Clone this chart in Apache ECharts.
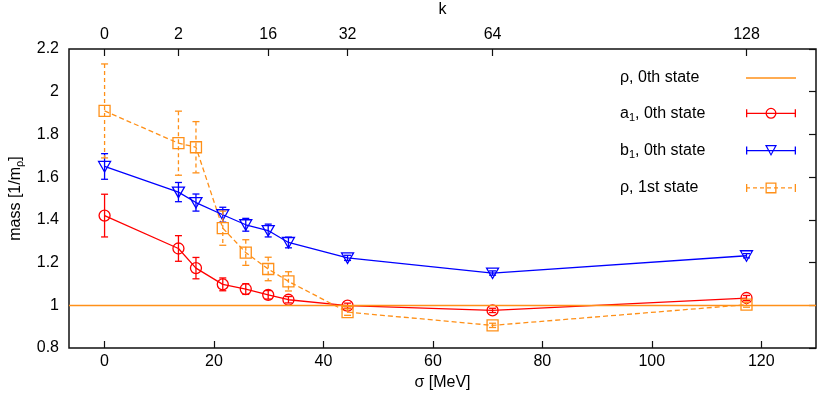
<!DOCTYPE html>
<html>
<head>
<meta charset="utf-8">
<script src="https://cdn.jsdelivr.net/npm/echarts@6/dist/echarts.min.js"></script>
<style>
  html, body { margin: 0; padding: 0; background: #fff; }
  #chart { width: 830px; height: 397px; }
</style>
</head>
<body>
<div id="chart"></div>
<script>
// values
const sigma = [0, 13.5, 16.7, 21.6, 25.8, 29.9, 33.6, 44.4, 70.9, 117.3];
const a1Mass = [1.42, 1.266, 1.174, 1.098, 1.076, 1.049, 1.026, 0.998, 0.976, 1.034];
const a1Err = [0.10, 0.06, 0.05, 0.03, 0.025, 0.02, 0.015, 0.012, 0.01, 0.012];
const b1Mass = [1.65, 1.53, 1.481, 1.424, 1.377, 1.35, 1.294, 1.222, 1.151, 1.232];
const b1Err = [0.06, 0.045, 0.04, 0.035, 0.03, 0.03, 0.025, 0.012, 0.01, 0.01];
const rho1Mass = [1.91, 1.759, 1.74, 1.361, 1.247, 1.17, 1.112, 0.968, 0.906, 1.003];
const rho1Err = [0.22, 0.15, 0.12, 0.08, 0.06, 0.055, 0.045, 0.015, 0.01, 0.012];
const rho0Mass = 1;

const sigmaTicks = [0, 20, 40, 60, 80, 100, 120];
const massTicks = [0.8, 1, 1.2, 1.4, 1.6, 1.8, 2, 2.2];
const massLabels = ['0.8', '1', '1.2', '1.4', '1.6', '1.8', '2', '2.2'];
const kSigma = [0, 13.5, 29.9, 44.4, 70.9, 117.3];
const kLabels = ['0', '2', '16', '32', '64', '128'];

const FONT = '"Liberation Sans", Arial, sans-serif';
const RED = '#ff0000';
const BLUE = '#0000ff';
const ORANGE = '#ff9018';
const LW = 1.3;

// ---- legend icon paths (50 x 12 box, filled) ----
const rect = (x0, y0, x1, y1) => `M${x0} ${y0} L${x1} ${y0} L${x1} ${y1} L${x0} ${y1} Z `;
const rectCCW = (x0, y0, x1, y1) => `M${x0} ${y0} L${x0} ${y1} L${x1} ${y1} L${x1} ${y0} Z `;
const ring = (cx, cy, r, w) =>
  `M${cx - r} ${cy} A${r} ${r} 0 1 1 ${cx + r} ${cy} A${r} ${r} 0 1 1 ${cx - r} ${cy} Z ` +
  `M${cx - r + w} ${cy} A${r - w} ${r - w} 0 1 0 ${cx + r - w} ${cy} A${r - w} ${r - w} 0 1 0 ${cx - r + w} ${cy} Z `;
const caps = rect(0, 2, 1.3, 10) + rect(48.7, 2, 50, 10);
const solidLine = rect(0, 5.35, 50, 6.65);
let dashLine = '';
for (let x = 0; x < 50; x += 7) dashLine += rect(x, 5.35, Math.min(x + 4, 50), 6.65);

const iconRho0 = 'path://' + rect(0, 0, 50, 1.3);
const iconA1 = 'path://' + solidLine + caps + ring(25, 6, 5.5, 1.3);
const iconB1 = 'path://' + solidLine + caps +
  'M19 0.5 L31 0.5 L25 11.5 Z M21.1 1.7 L25 9.2 L28.9 1.7 Z';
const iconRho1 = 'path://' + dashLine + caps + rect(19.5, 0.5, 30.5, 11.5) + rectCCW(20.8, 1.8, 29.2, 10.2);

// ---- error bars + hollow markers ----
function marker(kind, p, color) {
  const style = { stroke: color, fill: 'none', lineWidth: LW };
  if (kind === 'circle') {
    return { type: 'circle', shape: { cx: p[0], cy: p[1], r: 5.5 }, style };
  }
  if (kind === 'triangle') {
    return {
      type: 'polygon',
      shape: { points: [[p[0] - 6, p[1] - 5], [p[0] + 6, p[1] - 5], [p[0], p[1] + 5.5]] },
      style
    };
  }
  return { type: 'rect', shape: { x: p[0] - 5.5, y: p[1] - 5.5, width: 11, height: 11 }, style };
}

function errorSeries(name, mass, err, color, kind, dashed) {
  return {
    name: name,
    type: 'custom',
    z: 4,
    silent: true,
    data: sigma.map((s, i) => [s, mass[i], err[i]]),
    encode: { x: 0, y: 1 },
    renderItem: (params, api) => {
      const x = api.value(0), y = api.value(1), e = api.value(2);
      const p = api.coord([x, y]);
      const hi = api.coord([x, y + e]);
      const lo = api.coord([x, y - e]);
      const barStyle = { stroke: color, lineWidth: LW, lineDash: dashed ? [4, 3] : null };
      const capStyle = { stroke: color, lineWidth: LW };
      return {
        type: 'group',
        children: [
          { type: 'line', shape: { x1: p[0], y1: hi[1], x2: p[0], y2: lo[1] }, style: barStyle },
          { type: 'line', shape: { x1: p[0] - 3.5, y1: hi[1], x2: p[0] + 3.5, y2: hi[1] }, style: capStyle },
          { type: 'line', shape: { x1: p[0] - 3.5, y1: lo[1], x2: p[0] + 3.5, y2: lo[1] }, style: capStyle },
          marker(kind, p, color)
        ]
      };
    }
  };
}

function lineSeries(name, mass, color, dashed) {
  return {
    name: name,
    type: 'line',
    z: 3,
    silent: true,
    symbol: 'none',
    data: sigma.map((s, i) => [s, mass[i]]),
    lineStyle: { color: color, width: LW, type: dashed ? [5, 3] : 'solid' },
    itemStyle: { color: color }
  };
}

const N_RHO0 = 'ρ, 0th state';
const N_A1 = 'a1, 0th state';
const N_B1 = 'b1, 0th state';
const N_RHO1 = 'ρ, 1st state';

const legendText = {
  [N_RHO0]: '{t|ρ, 0th state}',
  [N_A1]: '{t|a}{s|1}{t|, 0th state}',
  [N_B1]: '{t|b}{s|1}{t|, 0th state}',
  [N_RHO1]: '{t|ρ, 1st state}'
};

const tickStyle = { color: '#111', width: 1.2 };
const noLine = { show: false, onZero: false };

const chart = echarts.init(document.getElementById('chart'));

chart.setOption({
  animation: false,
  backgroundColor: '#fff',
  textStyle: { fontFamily: FONT },
  grid: {
    left: 69, right: 14, top: 49, bottom: 49,
    containLabel: false,
    outerBoundsMode: 'none',
    show: true, borderColor: '#111', borderWidth: 1.5, backgroundColor: 'transparent'
  },
  legend: {
    orient: 'vertical',
    right: 34,
    top: 70,
    align: 'right',
    padding: 0,
    itemWidth: 50,
    itemHeight: 12,
    itemGap: 19.3,
    symbolKeepAspect: true,
    selectedMode: false,
    itemStyle: { borderWidth: 0 },
    data: [
      { name: N_RHO0, icon: iconRho0 },
      { name: N_A1, icon: iconA1 },
      { name: N_B1, icon: iconB1 },
      { name: N_RHO1, icon: iconRho1 }
    ],
    formatter: (name) => legendText[name],
    textStyle: {
      width: 121,
      color: '#000',
      fontFamily: FONT,
      fontSize: 16,
      rich: {
        t: { fontSize: 16, lineHeight: 20, align: 'left', fontFamily: FONT, color: '#000' },
        s: { fontSize: 11, lineHeight: 12, align: 'left', verticalAlign: 'bottom', fontFamily: FONT, color: '#000' }
      }
    }
  },
  xAxis: [
    {
      type: 'value',
      position: 'bottom',
      min: -6.5,
      max: 130,
      name: 'σ [MeV]',
      nameLocation: 'middle',
      nameGap: 25,
      nameTextStyle: { fontSize: 16, color: '#000', fontFamily: FONT },
      axisLine: noLine,
      splitLine: { show: false },
      axisTick: { show: true, inside: true, length: 7, customValues: sigmaTicks, lineStyle: tickStyle },
      axisLabel: { customValues: sigmaTicks, margin: 6, fontSize: 16, color: '#000', fontFamily: FONT }
    },
    {
      type: 'value',
      position: 'top',
      min: -6.5,
      max: 130,
      name: 'k',
      nameLocation: 'middle',
      nameGap: 31,
      nameTextStyle: { fontSize: 16, color: '#000', fontFamily: FONT },
      axisLine: noLine,
      splitLine: { show: false },
      axisTick: { show: true, inside: true, length: 7, customValues: kSigma, lineStyle: tickStyle },
      axisLabel: {
        customValues: kSigma,
        margin: 6,
        fontSize: 16,
        color: '#000',
        fontFamily: FONT,
        formatter: (v) => kLabels[kSigma.indexOf(v)]
      }
    }
  ],
  yAxis: [
    {
      type: 'value',
      position: 'left',
      min: 0.8,
      max: 2.2,
      name: '{n|mass [1/m}{s|ρ}{n|]}',
      nameLocation: 'middle',
      nameGap: 42,
      nameRotate: 90,
      nameTextStyle: {
        rich: {
          n: { fontSize: 16, lineHeight: 20, color: '#000', fontFamily: FONT },
          s: { fontSize: 11, lineHeight: 12, verticalAlign: 'bottom', color: '#000', fontFamily: FONT }
        }
      },
      axisLine: noLine,
      splitLine: { show: false },
      axisTick: { show: false },
      axisLabel: {
        customValues: massTicks,
        hideOverlap: false,
        margin: 10,
        fontSize: 16,
        color: '#000',
        fontFamily: FONT,
        formatter: (v) => massLabels[massTicks.findIndex((m) => Math.abs(m - v) < 1e-6)]
      }
    },
    {
      type: 'value',
      position: 'right',
      min: 0.8,
      max: 2.2,
      axisLine: noLine,
      splitLine: { show: false },
      axisTick: { show: true, inside: true, length: 7, customValues: massTicks, lineStyle: tickStyle },
      axisLabel: { show: false }
    }
  ],
  series: [
    {
      name: N_RHO0,
      type: 'line',
      data: [],
      symbol: 'none',
      lineStyle: { color: ORANGE, width: LW },
      itemStyle: { color: ORANGE },
      markLine: {
        silent: true,
        symbol: 'none',
        label: { show: false },
        lineStyle: { color: ORANGE, width: LW, type: 'solid' },
        data: [{ yAxis: rho0Mass }]
      }
    },
    lineSeries(N_A1, a1Mass, RED, false),
    lineSeries(N_B1, b1Mass, BLUE, false),
    lineSeries(N_RHO1, rho1Mass, ORANGE, true),
    errorSeries(N_A1, a1Mass, a1Err, RED, 'circle', false),
    errorSeries(N_B1, b1Mass, b1Err, BLUE, 'triangle', false),
    errorSeries(N_RHO1, rho1Mass, rho1Err, ORANGE, 'square', true)
  ]
});
</script>
</body>
</html>
